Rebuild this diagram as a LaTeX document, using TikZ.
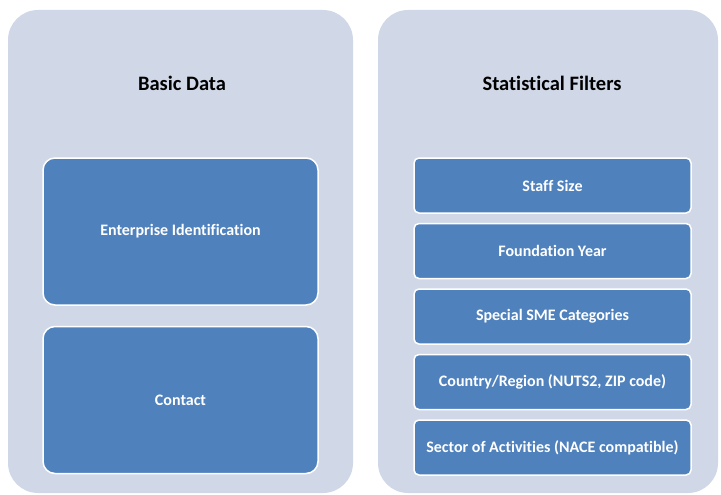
\documentclass[tikz,border=0pt]{standalone}
\usepackage{fontspec}
\setmainfont{Carlito}[Ligatures=NoCommon]
\usetikzlibrary{positioning}
\definecolor{panelgrey}{HTML}{D0D8E8}
\definecolor{boxblue}{HTML}{4F81BD}

\begin{document}
\begin{tikzpicture}[x=1pt, y=-1pt,
panelnode/.style={rectangle, rounded corners=30pt, fill=panelgrey, minimum height=483pt},
titlenode/.style={font=\bfseries\fontsize{20.5}{24}\selectfont, text=black},
bignode/.style={rectangle, rounded corners=12pt, draw=white, line width=1.5pt, fill=boxblue, text=white, font=\bfseries\fontsize{16}{19}\selectfont, minimum width=275pt, minimum height=147pt},
smallnode/.style={rectangle, rounded corners=5pt, draw=white, line width=1.5pt, fill=boxblue, text=white, font=\bfseries\fontsize{16}{19}\selectfont, minimum width=277pt, minimum height=55pt},
]
\useasboundingbox (0,0) rectangle (721,495);
%Panels
\node[panelnode, minimum width=345pt] (basicpanel) at (180.5,251.5) {};
\node[panelnode, minimum width=340pt] (filterpanel) at (548,251.5) {};
\node[titlenode] (basic) at (182,83) {Basic Data};
\node[titlenode] (filters) at (552,83) {Statistical Filters};

%Basic data boxes
\node[bignode] (enterprise) at (180.5,231.5) {Enterprise Identification};
\node[bignode] (contact) [below=20pt of enterprise] {Contact};

%Filter boxes
\node[smallnode] (staff) at (552.5,185.5) {Staff Size};
\node[smallnode] (foundation) [below=9pt of staff] {Foundation Year};
\node[smallnode] (sme) [below=9pt of foundation] {Special SME Categories};
\node[smallnode] (country) [below=9pt of sme] {Country/Region (NUTS2, ZIP code)};
\node[smallnode] (sector) [below=9pt of country] {Sector of Activities (NACE compatible)};

\end{tikzpicture}
\end{document}
